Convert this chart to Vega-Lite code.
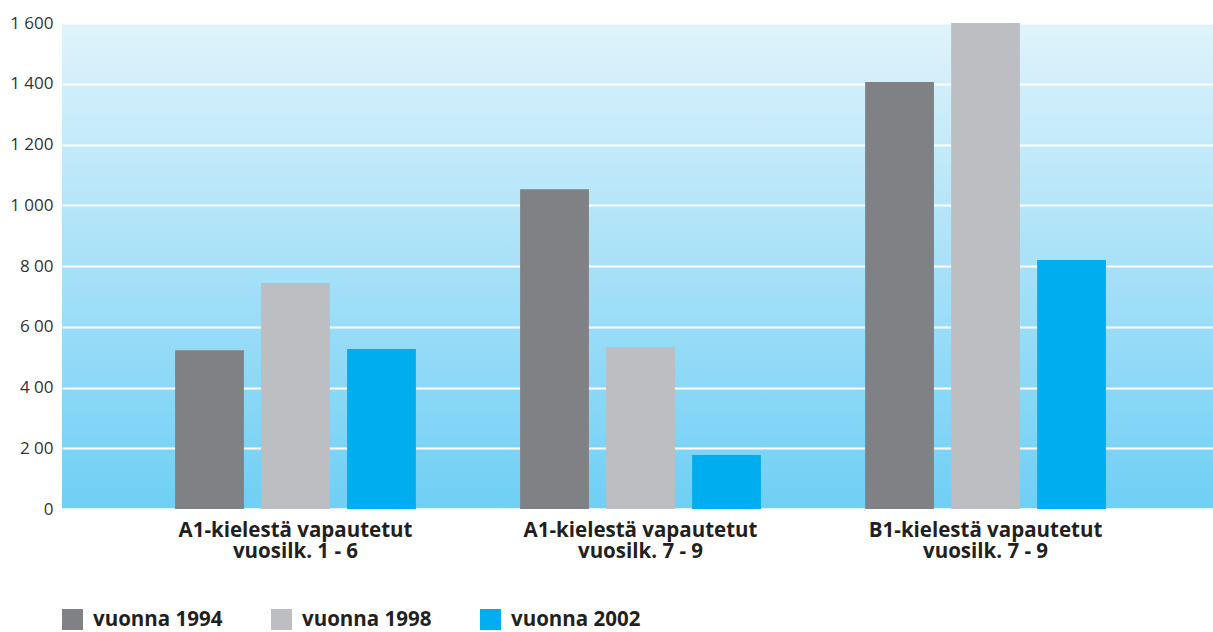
{
  "$schema": "https://vega.github.io/schema/vega-lite/v6.json",
  "width": 1151,
  "height": 486,
  "autosize": {"type": "none"},
  "padding": {"left": 62, "top": 23, "right": 0, "bottom": 123},
  "background": "white",
  "data": {
    "values": [
      {"ryhma": "A1-kielestä vapautetut|vuosilk. 1 - 6", "vuosi": "vuonna 1994", "arvo": 523},
      {"ryhma": "A1-kielestä vapautetut|vuosilk. 1 - 6", "vuosi": "vuonna 1998", "arvo": 744},
      {"ryhma": "A1-kielestä vapautetut|vuosilk. 1 - 6", "vuosi": "vuonna 2002", "arvo": 527},
      {"ryhma": "A1-kielestä vapautetut|vuosilk. 7 - 9", "vuosi": "vuonna 1994", "arvo": 1053},
      {"ryhma": "A1-kielestä vapautetut|vuosilk. 7 - 9", "vuosi": "vuonna 1998", "arvo": 533},
      {"ryhma": "A1-kielestä vapautetut|vuosilk. 7 - 9", "vuosi": "vuonna 2002", "arvo": 178},
      {"ryhma": "B1-kielestä vapautetut|vuosilk. 7 - 9", "vuosi": "vuonna 1994", "arvo": 1406},
      {"ryhma": "B1-kielestä vapautetut|vuosilk. 7 - 9", "vuosi": "vuonna 1998", "arvo": 1600},
      {"ryhma": "B1-kielestä vapautetut|vuosilk. 7 - 9", "vuosi": "vuonna 2002", "arvo": 820}
    ]
  },
  "mark": {"type": "bar", "clip": true},
  "encoding": {
    "x": {
      "field": "ryhma",
      "type": "nominal",
      "sort": null,
      "scale": {"paddingInner": 0, "paddingOuter": 0.168, "align": 0.526},
      "axis": {
        "title": null,
        "labelAngle": 0,
        "labelExpr": "split(datum.label, '|')",
        "labelFont": "Open Sans",
        "labelFontWeight": "bold",
        "labelFontSize": 20.5,
        "labelColor": "#231f20",
        "labelLineHeight": 21,
        "labelPadding": 11,
        "labelBaseline": "top",
        "labelLimit": 400,
        "ticks": false,
        "domain": true,
        "domainColor": "#ffffff",
        "domainWidth": 2,
        "grid": false
      }
    },
    "xOffset": {
      "field": "vuosi",
      "type": "nominal",
      "scale": {"paddingInner": 0.2, "paddingOuter": 0.606}
    },
    "y": {
      "field": "arvo",
      "type": "quantitative",
      "scale": {"domain": [0, 1600], "nice": false},
      "axis": {
        "title": null,
        "values": [0, 200, 400, 600, 800, 1000, 1200, 1400, 1600],
        "labelExpr": "({'0':'0','200':'2 00','400':'4 00','600':'6 00','800':'8 00','1000':'1 000','1200':'1 200','1400':'1 400','1600':'1 600'})[datum.value + '']",
        "labelFont": "Open Sans",
        "labelFontSize": 17,
        "labelColor": "#333333",
        "labelPadding": 9,
        "ticks": false,
        "domain": false,
        "grid": true,
        "gridColor": "#ffffff",
        "gridWidth": 2,
        "gridOpacity": 1
      }
    },
    "color": {
      "field": "vuosi",
      "type": "nominal",
      "scale": {
        "domain": ["vuonna 1994", "vuonna 1998", "vuonna 2002"],
        "range": ["#808184", "#bcbec2", "#00aeef"]
      },
      "legend": {
        "title": null,
        "orient": "none",
        "direction": "horizontal",
        "legendX": 0,
        "legendY": 586,
        "symbolType": "square",
        "symbolSize": 441,
        "symbolStrokeWidth": 0,
        "symbolOpacity": 1,
        "labelFont": "Open Sans",
        "labelFontWeight": "bold",
        "labelFontSize": 20.5,
        "labelColor": "#231f20",
        "labelOffset": 10,
        "columnPadding": 48,
        "labelLimit": 300
      }
    }
  },
  "config": {
    "view": {
      "stroke": null,
      "fill": {
        "gradient": "linear",
        "x1": 0, "y1": 0, "x2": 0, "y2": 1,
        "stops": [
          {"offset": 0, "color": "#e0f3fb"},
          {"offset": 1, "color": "#6fcff5"}
        ]
      }
    }
  }
}
